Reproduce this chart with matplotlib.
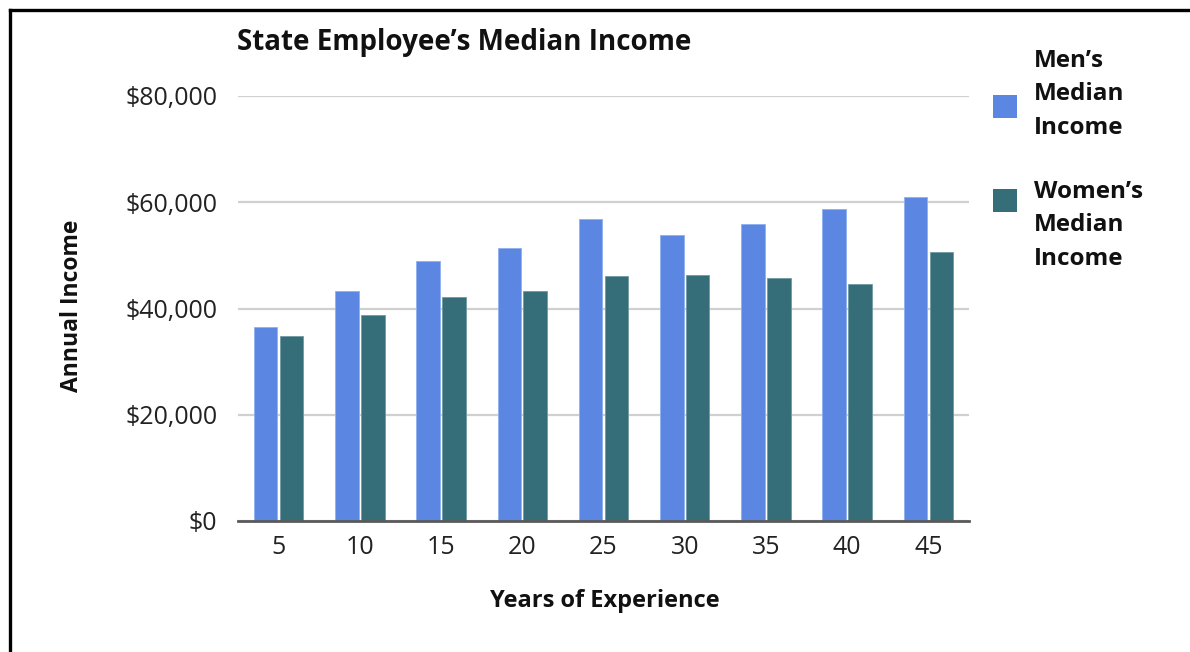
import matplotlib
matplotlib.use("Agg")
import matplotlib.pyplot as plt
from matplotlib.patches import Rectangle
from matplotlib.lines import Line2D
from matplotlib.ticker import FuncFormatter

years = ["5", "10", "15", "20", "25", "30", "35", "40", "45"]
mens_income = [36600, 43300, 48900, 51400, 56900, 53800, 55900, 58700, 60900]
womens_income = [34900, 38800, 42200, 43300, 46100, 46400, 45750, 44700, 50700]
series_labels = ["Men\u2019s\nMedian\nIncome", "Women\u2019s\nMedian\nIncome"]
series_colors = ["#5B87E3", "#356E78"]

plt.rcParams['font.family'] = ['Open Sans', 'DejaVu Sans']

W, H = 1190, 652
fig = plt.figure(figsize=(W / 100, H / 100), dpi=100)
fig.patch.set_facecolor("white")

# axes box in pixels: left 238, right 969, top 96, bottom 521
ax = fig.add_axes([238 / W, 1 - 521 / H, (969 - 238) / W, (521 - 96) / H])

x = list(range(len(years)))
bw = 0.29
ax.bar([i - 0.16 for i in x], mens_income, width=bw, color=series_colors[0],
       edgecolor="#8FB0F0", linewidth=0.6, zorder=3)
ax.bar([i + 0.16 for i in x], womens_income, width=bw, color=series_colors[1],
       edgecolor="#6E9AA2", linewidth=0.6, zorder=3)

ax.set_xlim(-0.5, len(years) - 0.5)
ax.set_ylim(0, 80000)
ax.set_yticks([0, 20000, 40000, 60000, 80000])
ax.yaxis.set_major_formatter(FuncFormatter(lambda v, p: "${:,.0f}".format(v)))
ax.set_xticks(x)
ax.set_xticklabels(years)
ax.grid(axis="y", color="#D0D0D0", linewidth=1.6, zorder=0)
for s in ["top", "right", "left"]:
    ax.spines[s].set_visible(False)
ax.spines["bottom"].set_color("#5A5A5A")
ax.spines["bottom"].set_linewidth(2)
ax.spines["bottom"].set_zorder(4)
ax.tick_params(axis="both", length=0, labelsize=18, labelcolor="#222222")
ax.tick_params(axis="y", pad=15)
ax.tick_params(axis="x", pad=10)

fig.text(237 / W, 1 - 50 / H, "State Employee\u2019s Median Income", fontsize=20,
         fontweight="bold", ha="left", va="baseline", color="#111111")
fig.text(72 / W, 1 - 306 / H, "Annual Income", fontsize=16.5, fontweight="bold",
         rotation=90, ha="center", va="center", color="#111111")
fig.text(605 / W, 1 - 607 / H, "Years of Experience", fontsize=17,
         fontweight="bold", ha="center", va="baseline", color="#111111")

# legend drawn by hand (swatch + three-line label)
swatch_top = [95, 189]
last_baseline = [134, 265]
for lab, col, sy, by in zip(series_labels, series_colors, swatch_top, last_baseline):
    fig.patches.append(Rectangle((993 / W, 1 - (sy + 23) / H), 24 / W, 23 / H,
                                 transform=fig.transFigure, facecolor=col,
                                 edgecolor="none"))
    fig.text(1034 / W, 1 - by / H, lab, fontsize=17.5, fontweight="bold",
             ha="left", va="baseline", linespacing=1.53, color="#111111")

# frame lines (left and top only)
fig.add_artist(Line2D([9.5 / W, 9.5 / W], [0, 1 - 9.5 / H], transform=fig.transFigure,
                      color="black", linewidth=2.4))
fig.add_artist(Line2D([9.5 / W, 1], [1 - 9.5 / H, 1 - 9.5 / H], transform=fig.transFigure,
                      color="black", linewidth=2.4))

fig.savefig("out.png", dpi=100)
